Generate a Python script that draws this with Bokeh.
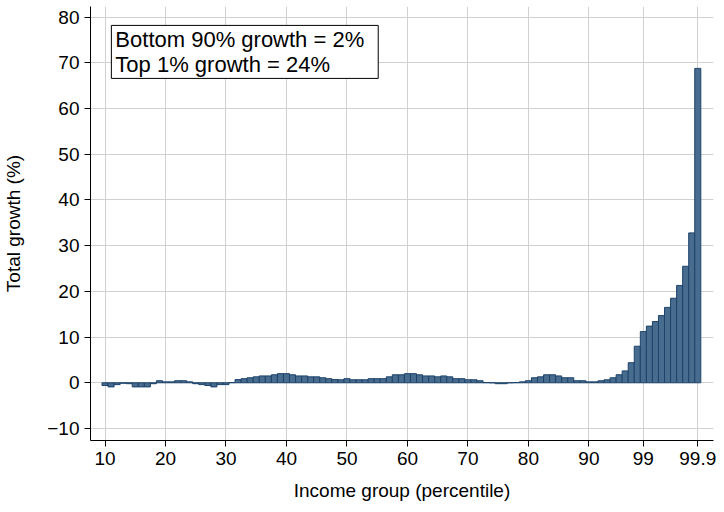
from bokeh.plotting import figure
from bokeh.models import Range1d, FixedTicker, Label, ColumnDataSource
from bokeh.embed import file_html
from bokeh.resources import INLINE

# percentile groups (10..98 by 1, then 99.0..99.9 by 0.1)
percentiles = [str(v) for v in range(10, 99)] + ["99.%d" % d for d in range(10)]

growth_10_49 = [-0.6, -0.9, -0.4, -0.1, -0.2, -0.9, -0.9, -0.9, -0.2, 0.45,
                0.2, 0.2, 0.45, 0.45, 0.2, -0.2, -0.4, -0.6, -0.9, -0.4,
                -0.4, 0.05, 0.7, 0.9, 1.1, 1.3, 1.5, 1.5, 1.75, 2.0,
                2.0, 1.75, 1.5, 1.5, 1.3, 1.3, 1.1, 0.9, 0.7, 0.66]
growth_50_89 = [0.9, 0.66, 0.66, 0.66, 0.9, 0.9, 0.9, 1.3, 1.75, 1.75,
                2.0, 2.0, 1.75, 1.5, 1.5, 1.3, 1.5, 1.3, 0.9, 0.9,
                0.66, 0.66, 0.45, 0.05, 0.0, -0.2, -0.2, 0.0, 0.05, 0.2,
                0.45, 1.1, 1.3, 1.75, 1.75, 1.5, 1.1, 1.1, 0.45, 0.45]
growth_90_98 = [0.2, 0.2, 0.44, 0.66, 1.1, 1.76, 2.6, 4.4, 8.0]
growth_top1 = [11.2, 12.4, 13.4, 14.7, 16.5, 18.5, 21.3, 25.5, 32.8, 68.8]

growth = growth_10_49 + growth_50_89 + growth_90_98 + growth_top1

tick_labels = ["10", "20", "30", "40", "50", "60", "70", "80", "90", "99", "99.9"]
y_ticks = [-10, 0, 10, 20, 30, 40, 50, 60, 70, 80]

idx = list(range(len(percentiles)))
src = ColumnDataSource(dict(x=idx, top=growth, pct=percentiles))

FONT = "Liberation Sans"

p = figure(width=716, height=504, output_backend="svg", toolbar_location=None,
           x_range=Range1d(-2.4, 100.6), y_range=Range1d(-12.63, 82.34),
           min_border_left=87, min_border_right=3, min_border_top=6, min_border_bottom=64)
p.outline_line_color = None
p.background_fill_color = "white"

p.vbar(x="x", top="top", width=1.0, bottom=0, source=src,
       fill_color="#486c8e", line_color="#1d436b", line_width=1)

tick_pos = [percentiles.index(t) if t in percentiles else percentiles.index(t + ".0") for t in tick_labels]
p.xaxis.ticker = FixedTicker(ticks=tick_pos)
p.xaxis.major_label_overrides = {pos: lab for pos, lab in zip(tick_pos, tick_labels)}
p.yaxis.ticker = FixedTicker(ticks=y_ticks)

for ax in (p.xaxis[0], p.yaxis[0]):
    ax.axis_line_color = "black"
    ax.axis_line_width = 1
    ax.major_tick_out = 6
    ax.major_tick_in = 0
    ax.minor_tick_line_color = None
    ax.major_tick_line_color = "black"
    ax.major_label_text_font = FONT
    ax.major_label_text_font_size = "19px"
    ax.major_label_text_color = "black"
    ax.axis_label_text_font = FONT
    ax.axis_label_text_font_size = "19px"
    ax.axis_label_text_font_style = "normal"
    ax.axis_label_text_color = "black"

p.xaxis.axis_label = "Income group (percentile)"
p.yaxis.axis_label = "Total growth (%)"
p.xaxis.major_label_standoff = 5
p.xaxis.axis_label_standoff = 12
p.yaxis.major_label_standoff = 5
p.yaxis.axis_label_standoff = 20

p.xgrid.ticker = FixedTicker(ticks=tick_pos)
p.ygrid.ticker = FixedTicker(ticks=y_ticks)
p.grid.grid_line_color = "#d0d0d0"
p.grid.grid_line_width = 1

lab = Label(x=1.05, y=78.2, text="Bottom 90% growth = 2%\nTop 1% growth = 24%",
            text_font=FONT, text_font_size="22px", text_color="black",
            anchor="top_left", text_align="left", text_baseline="top",
            padding=dict(left=4, right=14, top=2, bottom=1),
            border_line_color="black", border_line_width=1,
            background_fill_color="white", text_line_height=1.0)
p.add_layout(lab)

open("out.html", "w").write(file_html(p, INLINE))
